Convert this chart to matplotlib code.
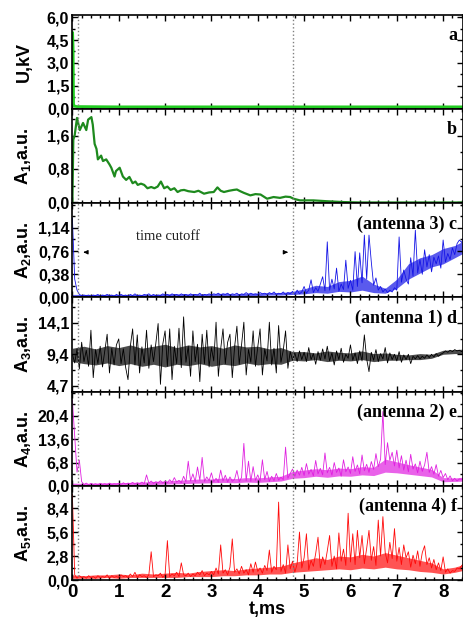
import numpy as np
import matplotlib
matplotlib.use("Agg")
import matplotlib.pyplot as plt
from matplotlib.ticker import MultipleLocator, FuncFormatter

plt.rcParams['font.family'] = ['Liberation Sans', 'DejaVu Sans']
plt.rcParams['mathtext.fontset'] = 'custom'
plt.rcParams['mathtext.rm'] = 'Liberation Sans'
plt.rcParams['mathtext.bf'] = 'Liberation Sans:bold'

# sampling grid of the noisy traces (c..f), ms
t = np.arange(170) * 0.05
# coarser grid of the dense noise core, ms
tc = np.arange(35) * 0.25

# a: voltage, kV
u_t = [0.0, 0.005, 0.015, 0.025, 0.04, 0.1, 1.0, 2.0, 3.0, 4.0, 5.0, 6.0, 7.0, 8.0, 8.45]
u_kv = [4.0, 5.0, 4.0, 0.3, 0.15, 0.12, 0.1, 0.1, 0.1, 0.1, 0.1, 0.1, 0.1, 0.1, 0.1]

# b: A1
a1_t = [0.0, 0.02, 0.05, 0.10, 0.16, 0.23, 0.30, 0.34, 0.41, 0.44, 0.48, 0.52, 0.55,
        0.59, 0.62, 0.66, 0.73, 0.80, 0.84, 0.91, 0.94, 1.02, 1.09, 1.16, 1.23, 1.30,
        1.36, 1.41, 1.48, 1.55, 1.62, 1.70, 1.77, 1.84, 1.91, 1.98, 2.05, 2.12, 2.20,
        2.27, 2.34, 2.41, 2.50, 2.63, 2.72, 2.84, 2.95, 3.05, 3.13, 3.20, 3.27, 3.38,
        3.48, 3.55, 3.62, 3.70, 3.84, 3.95, 4.06, 4.20, 4.34, 4.48, 4.60, 4.70, 4.77,
        4.91, 5.20, 5.49, 5.84, 6.20, 6.56, 6.92, 7.50, 8.00, 8.45]
a1 = [0.0, 1.50, 1.61, 2.02, 1.73, 1.90, 1.73, 1.98, 2.04, 1.86, 1.40, 1.28, 1.03,
      1.08, 1.12, 0.99, 1.03, 0.91, 0.83, 0.62, 0.75, 0.83, 0.62, 0.54, 0.61, 0.46,
      0.50, 0.42, 0.45, 0.42, 0.34, 0.37, 0.34, 0.38, 0.50, 0.34, 0.38, 0.30, 0.34,
      0.25, 0.29, 0.30, 0.27, 0.25, 0.28, 0.21, 0.24, 0.25, 0.36, 0.28, 0.25, 0.28,
      0.30, 0.31, 0.27, 0.23, 0.17, 0.20, 0.19, 0.09, 0.13, 0.11, 0.14, 0.13, 0.09,
      0.05, 0.05, 0.03, 0.01, 0.0, 0.0, 0.0, 0.0, 0.0, 0.0]

# c: A2 (antenna 3)
a2 = [1.30, 0.30, 0.12, 0.05, 0.03, 0.04, 0.03, 0.04, 0.02, 0.04,
      0.03, 0.05, 0.02, 0.04, 0.03, 0.05, 0.03, 0.04, 0.02, 0.05,
      0.03, 0.05, 0.03, 0.04, 0.02, 0.05, 0.03, 0.06, 0.03, 0.04,
      0.03, 0.05, 0.04, 0.06, 0.03, 0.05, 0.03, 0.04, 0.03, 0.06,
      0.04, 0.05, 0.03, 0.06, 0.04, 0.05, 0.03, 0.06, 0.04, 0.05,
      0.03, 0.06, 0.04, 0.05, 0.04, 0.07, 0.03, 0.05, 0.04, 0.06,
      0.04, 0.06, 0.05, 0.07, 0.04, 0.06, 0.05, 0.07, 0.04, 0.06,
      0.05, 0.07, 0.04, 0.06, 0.05, 0.08, 0.05, 0.07, 0.05, 0.06,
      0.05, 0.08, 0.06, 0.07, 0.05, 0.08, 0.06, 0.09, 0.05, 0.07,
      0.06, 0.09, 0.05, 0.08, 0.06, 0.10, 0.05, 0.12, 0.06, 0.09,
      0.18, 0.07, 0.12, 0.29, 0.08, 0.16, 0.10, 0.22, 0.34, 0.11,
      0.91, 0.12, 0.30, 0.14, 0.48, 0.10, 0.22, 0.13, 0.61, 0.15,
      0.28, 0.12, 0.75, 0.18, 0.73, 0.24, 1.02, 0.30, 1.02, 0.58,
      0.20, 0.32, 0.12, 0.18, 0.09, 0.14, 0.08, 0.12, 0.09, 0.16,
      0.12, 0.99, 0.25, 0.45, 0.30, 0.22, 0.65, 0.35, 1.10, 0.40,
      0.62, 0.38, 0.78, 0.50, 0.70, 0.42, 0.66, 0.55, 0.68, 0.48,
      0.94, 0.58, 0.72, 0.62, 0.81, 0.70, 0.88, 0.94, 0.90, 1.00]
a2_lo = [0.02, 0.02, 0.02, 0.02, 0.02, 0.02, 0.02, 0.02, 0.02, 0.02, 0.02, 0.02,
         0.03, 0.03, 0.03, 0.03, 0.03, 0.04, 0.04, 0.05, 0.06, 0.08, 0.07, 0.10,
         0.09, 0.12, 0.08, 0.07, 0.15, 0.30, 0.40, 0.50, 0.55, 0.65, 0.75]
a2_hi = [0.05, 0.05, 0.05, 0.05, 0.05, 0.05, 0.05, 0.05, 0.06, 0.06, 0.06, 0.06,
         0.06, 0.07, 0.06, 0.07, 0.07, 0.08, 0.08, 0.10, 0.14, 0.20, 0.18, 0.26,
         0.28, 0.35, 0.22, 0.15, 0.30, 0.55, 0.65, 0.70, 0.80, 0.85, 0.95]

# d: A3 (antenna 1)
a3 = [9.4, 8.1, 10.2, 7.2, 11.2, 8.3, 10.0, 7.6, 13.0, 5.9,
      10.1, 8.0, 10.6, 7.5, 9.9, 12.4, 6.6, 10.3, 7.8, 10.8,
      11.7, 8.0, 10.2, 7.4, 5.6, 10.6, 13.2, 7.8, 12.3, 6.6,
      10.5, 8.1, 13.0, 7.3, 10.8, 8.3, 11.0, 14.0, 4.9, 10.9,
      12.9, 7.6, 13.2, 5.6, 10.6, 8.0, 13.3, 7.4, 15.0, 8.2,
      10.6, 6.1, 12.9, 8.3, 10.9, 5.3, 12.4, 8.0, 13.0, 7.5,
      10.4, 8.4, 14.2, 6.1, 10.2, 13.2, 8.0, 11.2, 12.4, 5.9,
      10.5, 13.6, 7.9, 10.8, 14.2, 6.3, 10.1, 8.2, 12.9, 7.6,
      10.5, 13.2, 6.3, 10.2, 8.4, 14.2, 7.8, 10.3, 6.6, 13.7,
      8.2, 10.0, 12.9, 7.3, 9.8, 8.5, 9.6, 8.3, 9.9, 8.6,
      9.7, 8.3, 10.4, 8.6, 9.5, 7.9, 9.8, 8.5, 10.2, 8.7,
      10.6, 8.4, 9.6, 7.8, 9.9, 8.6, 10.3, 8.2, 9.4, 8.8,
      10.8, 8.5, 9.6, 8.0, 9.9, 8.4, 12.3, 8.7, 6.8, 9.7,
      8.5, 10.1, 8.3, 9.5, 8.7, 10.4, 8.1, 9.6, 8.6, 9.4,
      8.4, 9.8, 8.2, 9.3, 8.6, 9.4, 8.0, 9.1, 8.7, 9.2,
      8.7, 9.1, 8.8, 9.3, 8.9, 9.4, 9.0, 9.5, 9.1, 9.4,
      9.6, 9.9, 9.7, 10.0, 9.8, 10.1, 9.9, 10.0, 9.8, 10.1]
a3_lo = [8.3, 8.0, 7.8, 8.1, 7.7, 8.0, 7.6, 7.9, 7.5, 7.9, 7.7, 8.0,
         7.6, 7.9, 7.7, 8.1, 7.8, 8.0, 7.9, 8.5, 8.4, 8.6, 8.3, 8.5,
         8.4, 8.6, 8.3, 8.5, 8.5, 8.6, 8.6, 8.8, 9.4, 9.5, 9.5]
a3_hi = [10.3, 10.6, 10.2, 10.7, 10.4, 10.8, 10.3, 10.6, 10.9, 10.4, 10.8, 10.5,
         10.7, 10.3, 10.8, 10.5, 10.6, 10.2, 10.4, 9.8, 9.8, 9.6, 9.9, 9.7,
         9.6, 9.9, 9.5, 9.6, 9.4, 9.3, 9.5, 9.4, 10.0, 10.1, 10.2]

# e: A4 (antenna 2)
a4 = [25.0, 14.5, 4.0, 7.5, 1.2, 0.4, 0.8, 0.3, 0.7, 0.4,
      0.6, 0.3, 0.7, 0.4, 0.6, 0.3, 0.8, 0.4, 0.6, 0.5,
      0.7, 0.4, 0.9, 0.5, 0.8, 0.6, 1.0, 0.5, 0.9, 0.6,
      1.1, 0.6, 3.2, 0.8, 1.4, 0.7, 1.2, 0.9, 1.5, 0.8,
      1.3, 0.9, 1.8, 1.0, 2.4, 1.1, 1.6, 0.9, 2.8, 1.2,
      7.2, 1.4, 3.5, 1.2, 5.5, 1.6, 8.3, 1.3, 2.6, 1.5,
      3.8, 1.2, 2.2, 1.0, 4.6, 1.4, 3.1, 1.1, 2.6, 1.3,
      1.9, 4.5, 1.2, 2.4, 12.4, 1.5, 7.2, 1.3, 5.6, 1.6,
      3.2, 1.4, 7.6, 1.8, 4.2, 1.3, 2.8, 1.5, 3.6, 1.7,
      2.5, 1.8, 11.3, 2.2, 3.6, 4.9, 2.8, 4.6, 3.1, 5.4,
      3.0, 6.5, 3.4, 4.8, 2.9, 7.4, 3.5, 5.1, 3.2, 9.6,
      3.8, 5.4, 3.1, 6.8, 3.9, 5.2, 2.8, 7.6, 4.1, 5.5,
      3.6, 8.5, 4.2, 6.1, 3.5, 9.0, 4.4, 6.3, 3.9, 7.1,
      4.8, 9.4, 5.6, 7.8, 21.7, 6.2, 12.6, 7.4, 9.8, 5.8,
      10.4, 5.2, 8.8, 4.6, 7.5, 4.1, 9.2, 4.9, 6.4, 3.8,
      7.2, 4.2, 6.1, 9.8, 3.9, 5.6, 3.4, 6.2, 2.8, 4.5,
      2.4, 3.6, 1.8, 2.9, 1.5, 2.2, 1.4, 2.0, 1.9, 2.6]
a4_lo = [0.3, 0.2, 0.3, 0.2, 0.3, 0.4, 0.3, 0.4, 0.5, 0.6, 0.7, 0.8,
         0.9, 1.0, 0.9, 1.1, 1.0, 1.2, 1.4, 2.2, 2.4, 2.8, 2.5, 2.9,
         2.8, 3.2, 3.0, 4.0, 3.8, 3.4, 3.0, 2.6, 1.2, 1.3, 1.4]
a4_hi = [0.8, 0.7, 0.8, 0.9, 0.9, 1.0, 1.1, 1.3, 1.4, 1.6, 1.8, 2.0,
         2.0, 2.3, 2.1, 2.4, 2.3, 2.6, 2.8, 4.2, 4.6, 5.0, 4.7, 5.2,
         5.0, 5.6, 5.4, 7.8, 7.0, 6.2, 5.5, 4.8, 2.4, 2.3, 2.6]

# f: A5 (antenna 4)
a5 = [10.0, 0.6, 0.2, 0.5, 0.3, 0.4, 0.2, 0.5, 0.3, 0.4,
      0.2, 0.5, 0.3, 0.4, 0.3, 0.6, 0.2, 0.5, 0.3, 0.4,
      0.3, 0.6, 0.4, 0.5, 0.3, 0.7, 0.4, 0.9, 0.3, 0.6,
      0.4, 0.5, 0.3, 0.6, 3.3, 0.4, 0.6, 0.5, 0.8, 0.3,
      0.6, 4.6, 0.4, 0.7, 0.5, 0.9, 0.4, 2.0, 0.6, 0.5,
      0.8, 0.4, 0.7, 0.5, 0.9, 0.6, 1.1, 0.5, 0.8, 0.6,
      1.0, 0.6, 1.4, 0.7, 4.1, 0.8, 1.2, 0.6, 1.5, 4.8,
      0.9, 1.3, 0.7, 1.6, 0.8, 1.2, 0.6, 1.9, 0.9, 2.1,
      1.0, 1.4, 0.8, 1.7, 1.1, 3.5, 0.9, 1.6, 1.2, 9.1,
      1.0, 1.8, 0.8, 4.1, 1.3, 2.2, 0.9, 1.9, 5.6, 1.4,
      2.6, 5.4, 1.2, 2.3, 1.6, 3.1, 5.0, 1.4, 2.7, 1.8,
      3.4, 5.2, 1.6, 2.8, 1.3, 5.5, 2.2, 3.6, 1.7, 7.8,
      2.1, 5.4, 1.8, 5.8, 2.6, 5.2, 1.9, 3.7, 5.8, 2.3,
      3.9, 1.7, 7.0, 2.8, 7.4, 3.2, 2.0, 4.4, 2.5, 6.0,
      2.2, 3.8, 1.8, 4.1, 2.6, 3.3, 1.5, 2.9, 1.9, 3.4,
      1.6, 3.2, 4.0, 1.8, 2.6, 1.4, 2.4, 1.2, 2.0, 1.1,
      2.7, 0.9, 1.3, 0.8, 1.1, 1.0, 1.4, 1.3, 1.7, 1.9]
a5_lo = [0.2, 0.2, 0.2, 0.3, 0.2, 0.3, 0.3, 0.3, 0.3, 0.3, 0.4, 0.4,
         0.4, 0.5, 0.5, 0.6, 0.6, 0.7, 0.7, 0.9, 1.0, 1.1, 1.2, 1.3,
         1.2, 1.4, 1.3, 1.5, 1.3, 1.2, 1.0, 0.9, 0.7, 0.9, 1.2]
a5_hi = [0.6, 0.5, 0.6, 0.6, 0.7, 0.6, 0.8, 0.7, 0.8, 0.9, 0.8, 1.0,
         1.1, 1.2, 1.1, 1.3, 1.4, 1.5, 1.6, 2.0, 2.3, 2.6, 2.4, 2.8,
         2.7, 3.0, 2.8, 3.2, 2.9, 2.6, 2.3, 2.0, 1.3, 1.5, 1.9]

# time cutoff marks, ms
cutoff = [0.13, 4.76]

panels = [
    # x, y, core lo, core hi, color, lw, ylabel, ylim, yticks, minor step, decimals, tag
    (u_t, u_kv, None, None, '#22cc22', 2.0, 'U,kV', (-0.05, 6.15),
     [0, 1.5, 3.0, 4.5, 6.0], 0.75, 1, 'a'),
    (a1_t, a1, None, None, '#1e8a1e', 1.6, r'A$_\mathbf{1}$,a.u.', (-0.02, 2.23),
     [0, 0.8, 1.6], 0.4, 1, 'b'),
    (t, a2, a2_lo, a2_hi, '#1414e6', 0.6, r'A$_\mathbf{2}$,a.u.', (0.0, 1.54),
     [0, 0.38, 0.76, 1.14], 0.19, 2, '(antenna 3) c'),
    (t, a3, a3_lo, a3_hi, 'black', 0.6, r'A$_\mathbf{3}$,a.u.', (3.8, 17.9),
     [4.7, 9.4, 14.1], 2.35, 1, '(antenna 1) d'),
    (t, a4, a4_lo, a4_hi, '#e020e0', 0.6, r'A$_\mathbf{4}$,a.u.', (0.0, 27.5),
     [0, 6.8, 13.6, 20.4], 3.4, 1, '(antenna 2) e'),
    (t, a5, a5_lo, a5_hi, '#ff0a0a', 0.6, r'A$_\mathbf{5}$,a.u.', (0.0, 11.0),
     [0, 2.8, 5.6, 8.4], 1.4, 1, '(antenna 4) f'),
]

fig, axes = plt.subplots(6, 1, figsize=(4.64, 6.24), dpi=100, sharex=True)
fig.subplots_adjust(left=0.155, right=0.998, top=0.976, bottom=0.0705, hspace=0)

for ax, (x, y, lo, hi, col, lw, ylab, ylim, yt, minor, dec, tag) in zip(axes, panels):
    if lo is not None:
        ax.fill_between(tc, lo, hi, color=col, lw=0, alpha=0.7)
    ax.plot(x, y, color=col, lw=lw)
    for c in cutoff:
        ax.axvline(c, color='gray', ls=':', lw=1.0)
    ax.set_ylim(*ylim)
    ax.set_xlim(-0.01, 8.43)
    ax.set_yticks(yt)
    ax.yaxis.set_minor_locator(MultipleLocator(minor))
    ax.xaxis.set_major_locator(MultipleLocator(1))
    ax.xaxis.set_minor_locator(MultipleLocator(0.2))
    ax.yaxis.set_major_formatter(FuncFormatter(
        lambda v, p, d=dec: f'{v:.{d}f}'.replace('.', ',')))
    ax.tick_params(which='both', direction='in', top=True, right=True, width=1.0)
    ax.tick_params(which='major', length=4.5)
    ax.tick_params(which='minor', length=2.5)
    ax.tick_params(axis='y', labelsize=11.5, pad=2)
    for lbl in ax.get_yticklabels():
        lbl.set_fontweight('bold')
    for s in ax.spines.values():
        s.set_linewidth(1.2)
    ax.set_ylabel(ylab, fontsize=13, fontweight='bold')
    ax.yaxis.set_label_coords(-0.10, 0.5)
    ax.text(0.985, 0.78, tag, transform=ax.transAxes, ha='right', va='center',
            fontsize=13, fontweight='bold', family='Liberation Serif')

ax = axes[2]
ax.text(1.37, 0.99, 'time cutoff', fontsize=10.5, family='Liberation Serif',
        va='center', color='#222222')
ax.annotate('', xy=(0.18, 0.74), xytext=(0.34, 0.74),
            arrowprops=dict(arrowstyle='-|>', color='black', lw=0.8, mutation_scale=6))
ax.annotate('', xy=(4.71, 0.74), xytext=(4.55, 0.74),
            arrowprops=dict(arrowstyle='-|>', color='black', lw=0.8, mutation_scale=6))

axes[-1].tick_params(axis='x', labelsize=13.5, pad=3)
for lbl in axes[-1].get_xticklabels():
    lbl.set_fontweight('bold')
axes[-1].set_xlabel('t,ms', fontsize=13, fontweight='bold', labelpad=0)

fig.savefig('out.png', dpi=100)
